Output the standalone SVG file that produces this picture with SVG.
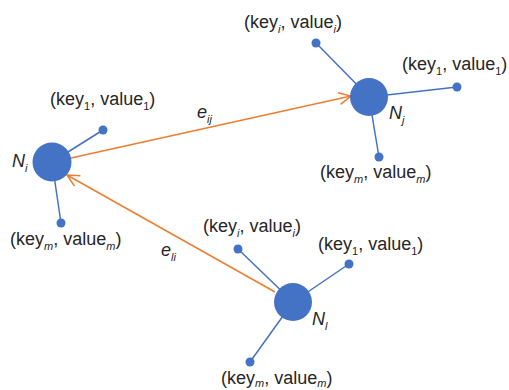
<svg xmlns="http://www.w3.org/2000/svg" width="509" height="390" viewBox="0 0 509 390">
  <defs>
    <style>
      .spoke { stroke: #4472C4; stroke-width: 1.5; fill: none; }
      .hub { fill: #4472C4; }
      .leaf { fill: #4472C4; }
      .edge { stroke: #ED7D31; stroke-width: 1.5; fill: none; }
      text { font-family: "Liberation Sans", Arial, sans-serif; font-size: 18px; fill: #262626; }
      .it { font-style: italic; }
      .sub { font-size: 11px; }
    </style>
    <marker id="openArrow" viewBox="0 0 14 14" refX="13" refY="7" markerWidth="14" markerHeight="14" markerUnits="userSpaceOnUse" orient="auto">
      <path d="M1,1 L13,7 L1,13" fill="none" stroke="#ED7D31" stroke-width="1.5"/>
    </marker>
  </defs>

  <rect width="509" height="390" fill="#ffffff"/>

  <!-- directed edges between nodes -->
  <g id="connectors">
    <line class="edge" x1="71" y1="158" x2="351" y2="96" marker-end="url(#openArrow)"/>
    <line class="edge" x1="275" y1="292" x2="67" y2="175" marker-end="url(#openArrow)"/>
    <text x="197" y="118" class="it">e<tspan class="sub" dy="5">ij</tspan></text>
    <text x="161" y="256" class="it">e<tspan class="sub" dy="5">li</tspan></text>
  </g>

  <!-- node N_i -->
  <g id="node-Ni">
    <line class="spoke" x1="52" y1="162" x2="103" y2="130"/>
    <line class="spoke" x1="52" y1="162" x2="61" y2="223"/>
    <circle class="hub" cx="52" cy="162" r="19.5"/>
    <circle class="leaf" cx="103" cy="130" r="4.5"/>
    <circle class="leaf" cx="61" cy="223" r="4.5"/>
    <text x="12" y="167" class="it">N<tspan class="sub" dy="5">i</tspan></text>
    <text x="50" y="105">(key<tspan class="sub" dy="5">1</tspan><tspan dy="-5">, value</tspan><tspan class="sub" dy="5">1</tspan><tspan dy="-5">)</tspan></text>
    <text x="10" y="245">(key<tspan class="sub it" dy="5">m</tspan><tspan dy="-5">, value</tspan><tspan class="sub it" dy="5">m</tspan><tspan dy="-5">)</tspan></text>
  </g>

  <!-- node N_j -->
  <g id="node-Nj">
    <line class="spoke" x1="369" y1="97" x2="316" y2="43"/>
    <line class="spoke" x1="369" y1="97" x2="457" y2="87"/>
    <line class="spoke" x1="369" y1="97" x2="379" y2="157"/>
    <circle class="hub" cx="369" cy="97" r="19"/>
    <circle class="leaf" cx="316" cy="43" r="4.5"/>
    <circle class="leaf" cx="457" cy="87" r="4.5"/>
    <circle class="leaf" cx="379" cy="157" r="4.5"/>
    <text x="389" y="119" class="it">N<tspan class="sub" dy="5">j</tspan></text>
    <text x="244" y="28">(key<tspan class="sub it" dy="5">i</tspan><tspan dy="-5">, value</tspan><tspan class="sub it" dy="5">i</tspan><tspan dy="-5">)</tspan></text>
    <text x="402" y="70">(key<tspan class="sub" dy="5">1</tspan><tspan dy="-5">, value</tspan><tspan class="sub" dy="5">1</tspan><tspan dy="-5">)</tspan></text>
    <text x="320" y="178">(key<tspan class="sub it" dy="5">m</tspan><tspan dy="-5">, value</tspan><tspan class="sub it" dy="5">m</tspan><tspan dy="-5">)</tspan></text>
  </g>

  <!-- node N_l -->
  <g id="node-Nl">
    <line class="spoke" x1="293" y1="302" x2="238" y2="249"/>
    <line class="spoke" x1="293" y1="302" x2="349" y2="264"/>
    <line class="spoke" x1="293" y1="302" x2="250" y2="362"/>
    <circle class="hub" cx="293" cy="302" r="19"/>
    <circle class="leaf" cx="238" cy="249" r="4.5"/>
    <circle class="leaf" cx="349" cy="264" r="4.5"/>
    <circle class="leaf" cx="250" cy="362" r="4.5"/>
    <text x="312" y="325" class="it">N<tspan class="sub" dy="5">l</tspan></text>
    <text x="203" y="232">(key<tspan class="sub it" dy="5">i</tspan><tspan dy="-5">, value</tspan><tspan class="sub it" dy="5">i</tspan><tspan dy="-5">)</tspan></text>
    <text x="318" y="250">(key<tspan class="sub" dy="5">1</tspan><tspan dy="-5">, value</tspan><tspan class="sub" dy="5">1</tspan><tspan dy="-5">)</tspan></text>
    <text x="221" y="384">(key<tspan class="sub it" dy="3">m</tspan><tspan dy="-3">, value</tspan><tspan class="sub it" dy="3">m</tspan><tspan dy="-3">)</tspan></text>
  </g>
</svg>
